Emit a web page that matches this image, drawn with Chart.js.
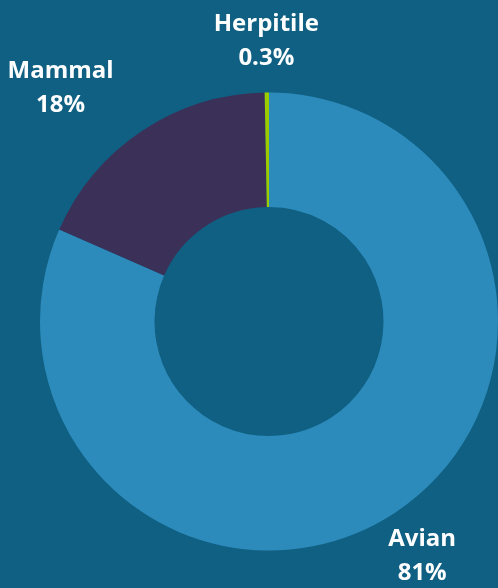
<!DOCTYPE html>
<html>
<head>
<meta charset="utf-8">
<script src="https://cdn.jsdelivr.net/npm/chart.js@4/dist/chart.umd.min.js"></script>
<style>
    html, body { margin: 0; padding: 0; background: #0f6083; }
    #wrap { width: 498px; height: 588px; position: relative; }
</style>
</head>
<body>
<div id="wrap"><canvas id="pie-chart"></canvas></div>
<script>
/* ======== DATA ======== */
const categories = ["Avian", "Mammal", "Herpitile"]
const shares = [81, 18, 0.3]
const shareLabels = ["81%", "18%", "0.3%"]
const sliceColors = ["#2d8bbb", "#3b3158", "#9ccc00"]

/* Draws the two line label (name + percent) outside each slice */
const outsideLabels = {
    id: 'outsideLabels',
    afterDatasetsDraw(chart, args, opts) {
        const ctx = chart.ctx
        const meta = chart.getDatasetMeta(0)
        ctx.save()
        ctx.fillStyle = '#ffffff'
        ctx.font = 'bold 24px "Open Sans"'
        ctx.textAlign = 'center'
        ctx.textBaseline = 'middle'
        meta.data.forEach((arc, i) => {
            const mid = (arc.startAngle + arc.endAngle) / 2
            const r = arc.outerRadius + opts.gap
            const nudge = opts.nudge[i] || 0
            const x = arc.x + Math.cos(mid) * r + nudge
            const y = arc.y + Math.sin(mid) * r
            ctx.fillText(categories[i], x, y - 17)
            ctx.fillText(shareLabels[i], x, y + 17)
        })
        ctx.restore()
    }
}

const ctx = document.getElementById("pie-chart").getContext("2d")
const pieChart = new Chart(ctx, {
    type: 'doughnut',
    data: {
        labels: categories,
        datasets: [{
            data: shares,
            backgroundColor: sliceColors,
            borderWidth: 0
        }]
    },
    options: {
        responsive: true,
        maintainAspectRatio: false,
        animation: false,
        cutout: '50%',
        layout: {
            padding: { left: 40, right: 0, top: 92, bottom: 37 }
        },
        plugins: {
            legend: { display: false },
            tooltip: { enabled: false },
            outsideLabels: { gap: 51, nudge: [0, -53, 0] }
        }
    },
    plugins: [outsideLabels]
})
</script>
</body>
</html>
